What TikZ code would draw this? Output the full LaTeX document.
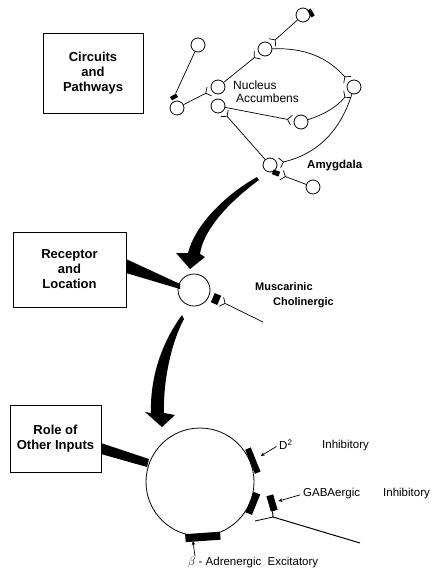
\documentclass[tikz,border=0pt]{standalone}
\usepackage{fontspec}
\setmainfont{Liberation Sans}
\usetikzlibrary{arrows.meta, positioning, calc}

\tikzset{
  cell/.style={draw, circle, minimum size=14pt, inner sep=0pt, line width=0.8pt, fill=white},
  axon/.style={line width=0.7pt, -{Straight Barb[reversed, length=4pt, width=10pt, line width=0.7pt]}, shorten >=2pt},
  boxlabel/.style={draw, line width=0.9pt, align=center, font=\bfseries\fontsize{13}{15}\selectfont, inner sep=0pt},
  knob/.style={fill=black, inner sep=0pt},
  lbl/.style={font=\fontsize{11.5}{13}\selectfont, anchor=west, inner sep=0pt},
  blbl/.style={font=\bfseries\fontsize{11}{13}\selectfont, anchor=west, inner sep=0pt},
  pointer/.style={-{Stealth[length=4pt, width=3.5pt]}, line width=0.7pt},
}

\begin{document}
\begin{tikzpicture}[x=1pt, y=-1pt]
\useasboundingbox (0,0) rectangle (438,576);

% circuits and pathways
\node[boxlabel, minimum width=100pt, minimum height=80pt] (circuits) at (93,73) {Circuits\\and\\Pathways};
\node[cell] (n1) at (303,15) {};
\node[cell] (n2) at (265,49) {};
\node[cell] (n3) at (218,87) {};
\node[cell] (n4) at (354,87) {};
\node[cell] (n5) at (218,106) {};
\node[cell] (n6) at (301,122) {};
\node[cell] (n7) at (270,165) {};
\node[cell] (n8) at (313,187) {};
\node[cell] (n9) at (198,45) {};
\node[cell] (n10) at (177,108) {};
\node[knob, minimum width=4pt, minimum height=8pt, rotate=30] (k1) at (311,13) {};
\node[knob, minimum width=7pt, minimum height=5pt, rotate=-20] (k7) at (276,173) {};
\node[knob, minimum width=7pt, minimum height=4pt, rotate=30] (k10) at (174,97) {};
\draw[axon] (n1) -- (n2);
\draw[axon] (n3) -- (n2);
\draw[axon] (n2) to[bend left=25] (n4);
\draw[axon] (n5) -- (n6);
\draw[axon] (n6) to[bend right=15] (n4);
\draw[axon] (n4) to[bend left=30] (n7);
\draw[axon] (n7) -- (n5);
\draw[axon] (n8) -- (k7);
\draw[line width=0.7pt] (n9) -- (k10);
\draw[axon] (n10) -- (n3);
\node[lbl, font=\fontsize{12}{14}\selectfont] (nucleus) at (233,85) {Nucleus};
\node[lbl, font=\fontsize{12}{14}\selectfont] (accumbens) at (236,98) {Accumbens};
\node[blbl, font=\bfseries\fontsize{11.5}{13}\selectfont] (amygdala) at (307,166) {Amygdala};

% big arrows
\fill (257,177) .. controls (225,195) and (195,225) .. (188,253) -- (176,253) -- (190,269)
  -- (205,257) -- (200,254) .. controls (203,232) and (225,205) .. (259,180) -- cycle;
\fill (182,315) .. controls (160,345) and (150,380) .. (151,413) -- (145,412) -- (162,427)
  -- (175,415) -- (164,413) .. controls (163,385) and (170,345) .. (184,319) -- cycle;

% receptor and location
\node[boxlabel, minimum width=113pt, minimum height=75pt] (receptor) at (69.5,269.5) {Receptor\\and\\Location};
\node[cell, minimum size=32pt] (midcell) at (194,290) {};
\fill (126,259) -- (180,284) -- (180,289) -- (126,273) -- cycle;
\node[knob, minimum width=7pt, minimum height=10pt, rotate=-23] (mussyn) at (216,299) {};
\coordinate (mustail) at (263,322);
\draw[axon] (mustail) -- (mussyn);
\node[blbl] (muscarinic) at (255,287) {Muscarinic};
\node[blbl] (cholinergic) at (273,303) {Cholinergic};

% role of other inputs
\node[boxlabel, minimum width=91pt, minimum height=67pt] (roleinputs) at (55.5,438.5) {Role of\\Other Inputs};
\node[cell, minimum size=108pt] (bigcell) at (200,482) {};
\fill (101,443) -- (149,459) -- (147,467) -- (101,454) -- cycle;
\node[knob, minimum width=6pt, minimum height=26pt, rotate=22] (d2rec) at ($(bigcell)+(-22:57)$) {};
\node[knob, minimum width=7pt, minimum height=22pt, rotate=-22] (lowrec) at ($(bigcell)+(22:57)$) {};
\node[knob, minimum width=8pt, minimum height=35pt, rotate=-86] (betarec) at ($(bigcell)+(87:55)$) {};
\node[knob, minimum width=16pt, minimum height=7pt, rotate=-74] (gabasyn) at (272,503) {};
\coordinate (gabatail) at (360,543);
\coordinate (gabaj) at (273,517);
\draw[line width=1pt] (gabatail) -- (gabaj) -- (gabasyn);
\draw[line width=0.8pt] (gabaj) -- ++(-18,4);

\node[lbl] (d2lbl) at (279,445) {D\textsuperscript{2}};
\node[lbl] (d2inh) at (322,446) {Inhibitory};
\node[lbl] (gabalbl) at (303,494) {GABAergic};
\node[lbl] (gabainh) at (383,494) {Inhibitory};
\node[lbl] (betalbl) at (188,563) {$\beta$ - Adrenergic\ \ Excitatory};
\coordinate (betatip) at (193,541);
\draw[pointer, shorten <=3pt, shorten >=6pt] (d2lbl.west) -- (d2rec);
\draw[pointer, shorten <=3pt, shorten >=3pt] (gabalbl.west) -- (gabasyn);
\draw[pointer] ($(betalbl.north west)+(7,-1)$) -- (betatip);
\end{tikzpicture}
\end{document}
